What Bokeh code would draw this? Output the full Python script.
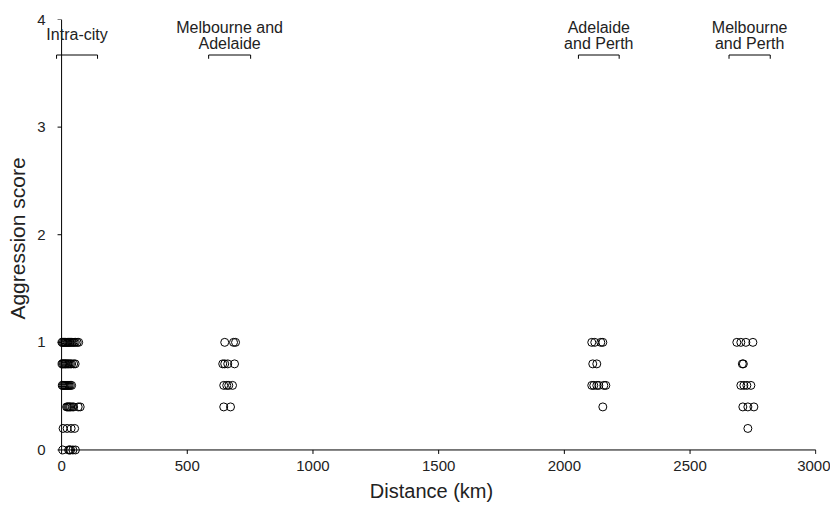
from bokeh.plotting import figure
from bokeh.models import Range1d, FixedTicker
from bokeh.core.properties import value
from bokeh.embed import file_html
from bokeh.resources import INLINE

# ---- data ----
intra_x = [2, 5, 8, 12, 15, 18, 22, 25, 28, 32, 35, 40, 45, 50, 55, 62, 68,
           2, 5, 8, 12, 15, 18, 22, 26, 30, 35, 40, 48, 54,
           3, 6, 10, 14, 18, 22, 26, 30, 35, 40,
           20, 24, 28, 32, 36, 42, 48, 66, 74,
           6, 22, 38, 52,
           5, 28, 32, 36, 45, 55]
intra_y = [1.0] * 17 + [0.8] * 13 + [0.6] * 10 + [0.4] * 9 + [0.2] * 4 + [0.0] * 6

mel_adl_x = [649, 684, 692, 641, 649, 661, 688, 645, 657, 665, 680, 645, 672]
mel_adl_y = [1.0, 1.0, 1.0, 0.8, 0.8, 0.8, 0.8, 0.6, 0.6, 0.6, 0.6, 0.4, 0.4]

adl_per_x = [2109, 2121, 2145, 2153, 2113, 2129, 2109, 2117, 2129, 2137, 2157, 2165, 2153]
adl_per_y = [1.0, 1.0, 1.0, 1.0, 0.8, 0.8, 0.6, 0.6, 0.6, 0.6, 0.6, 0.6, 0.4]

mel_per_x = [2686, 2702, 2722, 2750, 2708, 2712, 2702, 2714, 2726, 2742, 2710, 2730, 2754, 2730]
mel_per_y = [1.0, 1.0, 1.0, 1.0, 0.8, 0.8, 0.6, 0.6, 0.6, 0.6, 0.4, 0.4, 0.4, 0.2]

label_line1 = ["Intra-city", "Melbourne and", "Adelaide", "Melbourne"]
label_line2 = ["Adelaide", "and Perth", "and Perth"]
bracket_start = [-20, 585, 2056, 2655]
bracket_end = [143, 752, 2218, 2819]

x_ticks = [0, 500, 1000, 1500, 2000, 2500, 3000]
y_ticks = [0, 1, 2, 3, 4]

FONT = "Liberation Sans"
INK = "#222222"

p = figure(width=830, height=505, output_backend="svg", toolbar_location=None,
           x_range=Range1d(-60, 3003), y_range=Range1d(-0.07, 4.0),
           min_border_left=46, min_border_right=14, min_border_top=19, min_border_bottom=48)
p.outline_line_color = None
p.grid.visible = False

# axis lines and ticks drawn at the data origin
n_x, n_y = len(x_ticks), len(y_ticks)
tick_dy = 0.037   # about 4 px
tick_dx = 16      # about 4 px
p.segment(x0=[0, 0], y0=[0, 0], x1=[x_ticks[-1], 0], y1=[0, y_ticks[-1]], line_color="black", line_width=1)
p.segment(x0=x_ticks, y0=[0] * n_x, x1=x_ticks, y1=[-tick_dy] * n_x, line_color="black", line_width=1)
p.segment(x0=[0] * n_y, y0=y_ticks, x1=[-tick_dx] * n_y, y1=y_ticks, line_color="black", line_width=1)

all_x = intra_x + mel_adl_x + adl_per_x + mel_per_x
all_y = intra_y + mel_adl_y + adl_per_y + mel_per_y
p.scatter(all_x, all_y, marker="circle", size=8, fill_alpha=0.0,
          line_color="black", line_width=1)

# brackets
lvl = 3.67
drop = 0.035
nb = len(bracket_start)
p.segment(x0=bracket_start, y0=[lvl] * nb, x1=bracket_end, y1=[lvl] * nb, line_color="black", line_width=1)
p.segment(x0=bracket_start, y0=[lvl] * nb, x1=bracket_start, y1=[lvl - drop] * nb, line_color="black", line_width=1)
p.segment(x0=bracket_end, y0=[lvl] * nb, x1=bracket_end, y1=[lvl - drop] * nb, line_color="black", line_width=1)

centers = [(a + b) / 2 for a, b in zip(bracket_start, bracket_end)]
line1_y = [3.860, 3.925, 3.925, 3.925]
p.text(x=centers, y=line1_y, text=label_line1, text_align="center", text_baseline="alphabetic",
       text_font=value(FONT), text_font_size="16px", text_color=INK)
p.text(x=centers[1:], y=[3.777] * 3, text=label_line2, text_align="center", text_baseline="alphabetic",
       text_font=value(FONT), text_font_size="16px", text_color=INK)

for ax in (p.xaxis, p.yaxis):
    ax.axis_line_color = None
    ax.major_tick_line_color = None
    ax.minor_tick_line_color = None
    ax.major_tick_out = 0
    ax.major_tick_in = 0
    ax.major_label_text_font = FONT
    ax.major_label_text_font_size = "15px"
    ax.major_label_text_color = INK
    ax.axis_label_text_font = FONT
    ax.axis_label_text_font_style = "normal"
    ax.axis_label_text_color = INK

p.xaxis.axis_label_text_font_size = "20px"
p.yaxis.axis_label_text_font_size = "21px"
p.xaxis.ticker = FixedTicker(ticks=x_ticks)
p.yaxis.ticker = FixedTicker(ticks=y_ticks)
p.xaxis.axis_label = "Distance (km)"
p.yaxis.axis_label = "Aggression score"
p.xaxis.major_label_standoff = 3
p.yaxis.major_label_standoff = 1
p.xaxis.axis_label_standoff = 6
p.yaxis.axis_label_standoff = 5

open("out.html", "w").write(file_html(p, INLINE))
